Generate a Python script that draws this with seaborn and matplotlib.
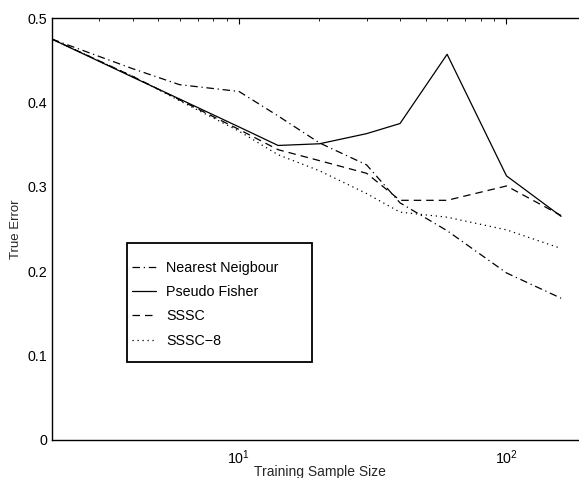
import matplotlib
matplotlib.use("Agg")
import matplotlib.pyplot as plt
from matplotlib.patches import Rectangle
import numpy as np
import pandas as pd
import seaborn as sns

sample_sizes = [2, 4, 6, 10, 14, 20, 30, 40, 60, 100, 160]
nearest_neighbour = [0.475, 0.440, 0.421, 0.413, 0.384, 0.352, 0.326, 0.281, 0.248, 0.198, 0.168]
pseudo_fisher = [0.475, 0.430, 0.404, 0.371, 0.349, 0.351, 0.363, 0.375, 0.457, 0.313, 0.265]
sssc = [0.475, 0.431, 0.403, 0.368, 0.344, 0.331, 0.316, 0.284, 0.284, 0.301, 0.266]
sssc8 = [0.475, 0.431, 0.402, 0.366, 0.338, 0.319, 0.292, 0.270, 0.264, 0.249, 0.227]

method_names = ["Nearest Neigbour", "Pseudo Fisher", "SSSC", "SSSC\u22128"]

df = pd.DataFrame({
    "size": sample_sizes * 4,
    "error": nearest_neighbour + pseudo_fisher + sssc + sssc8,
    "method": np.repeat(method_names, len(sample_sizes)),
})

sns.set_style("white")
plt.rcParams["font.family"] = ["Liberation Sans", "DejaVu Sans"]
plt.rcParams["mathtext.fontset"] = "custom"
plt.rcParams["mathtext.rm"] = "Liberation Sans"
plt.rcParams["mathtext.it"] = "Liberation Sans"

dash_map = {
    "Nearest Neigbour": (6, 3, 1, 3),
    "Pseudo Fisher": "",
    "SSSC": (6, 4),
    "SSSC\u22128": (1, 3),
}

fig = plt.figure(figsize=(5.79, 4.78), dpi=100)
ax = fig.add_axes([0.0898, 0.0795, 0.924, 0.8828])

sns.lineplot(
    data=df, x="size", y="error", style="method", dashes=dash_map,
    color="black", linewidth=0.9, ax=ax, legend=True,
)

ax.set_xscale("log")
ax.set_xlim(2, 200)
ax.set_ylim(0, 0.5)
ax.set_yticks([0, 0.1, 0.2, 0.3, 0.4, 0.5])
ax.set_yticklabels(["0", "0.1", "0.2", "0.3", "0.4", "0.5"])
ax.set_xlabel("Training Sample Size", fontsize=10, labelpad=-1.5)
ax.set_ylabel("True Error", fontsize=9.5, labelpad=4)

for sp in ax.spines.values():
    sp.set_color("black")
    sp.set_linewidth(1.0)
ax.tick_params(which="both", direction="in", top=True, right=True,
               labelsize=10.3, colors="black")
ax.tick_params(which="major", length=4, width=0.8)
ax.tick_params(which="minor", length=2.5, width=0.6)
ax.tick_params(axis="x", which="major", pad=6)

# legend entries without frame; box drawn separately (MATLAB style)
leg = ax.legend(
    loc="upper left", bbox_to_anchor=(0.1495, 0.425), fontsize=10.3,
    frameon=False, handlelength=1.65, handletextpad=0.72,
    labelspacing=0.72, borderpad=0, borderaxespad=0, title=None,
)
for t in leg.get_texts():
    t.set_color("black")
ax.add_patch(Rectangle((0.140, 0.185), 0.346, 0.282, transform=ax.transAxes,
                       fill=True, facecolor="white", edgecolor="black",
                       linewidth=1.3, zorder=4))
leg.set_zorder(5)

fig.savefig("out.png", dpi=100)
